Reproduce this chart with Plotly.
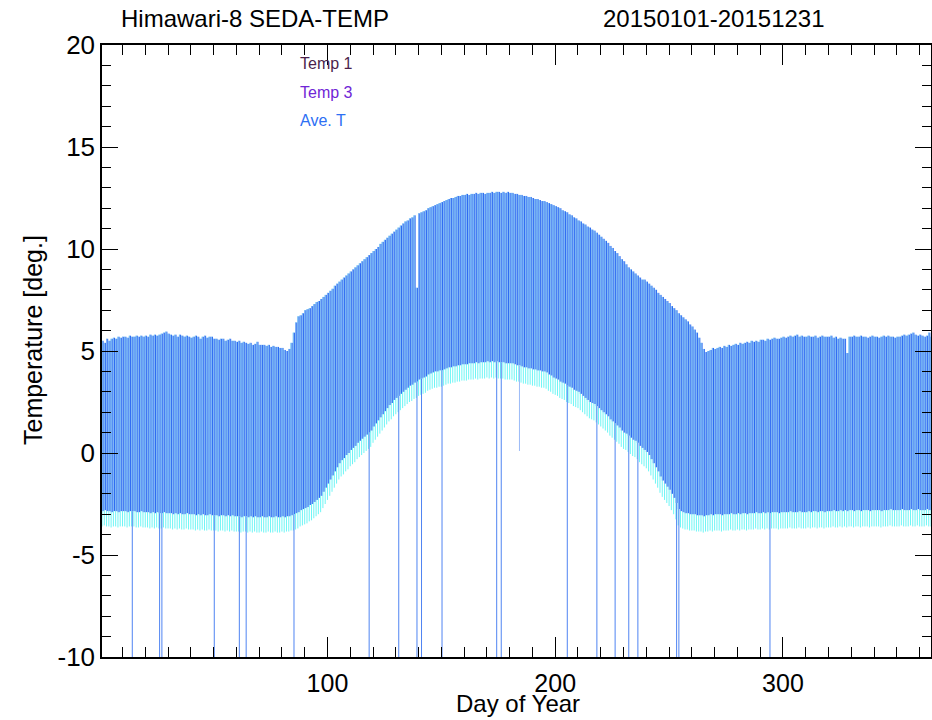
import plotly.graph_objects as go

# Day of year 1..365
days = list(range(1, 366))

# Daily maximum temperature (top envelope)
t_max = [
    5.5, 5.4, 5.6, 5.5, 5.6, 5.65, 5.6, 5.7, 5.65, 5.7,
    5.7, 5.65, 5.75, 5.7, 5.7, 5.75, 5.7, 5.75, 5.7, 5.75,
    5.7, 5.8, 5.75, 5.8, 5.75, 5.8, 5.85, 5.9, 5.95, 5.85,
    5.8, 5.75, 5.8, 5.7, 5.8, 5.75, 5.7, 5.75, 5.7, 5.65,
    5.7, 5.75, 5.7, 5.6, 5.7, 5.75, 5.65, 5.7, 5.7, 5.6,
    5.6, 5.55, 5.6, 5.6, 5.5, 5.55, 5.6, 5.5, 5.5, 5.45,
    5.5, 5.4, 5.45, 5.4, 5.35, 5.4, 5.3, 5.35, 5.45, 5.3,
    5.3, 5.3, 5.25, 5.3, 5.2, 5.25, 5.2, 5.2, 5.15, 5.15,
    5.05, 5.0, 5.1, 5.4, 5.9, 6.4, 6.7, 6.75, 6.85, 7.0,
    7.05, 7.1, 7.2, 7.3, 7.4, 7.45, 7.55, 7.65, 7.75, 7.85,
    7.95, 8.05, 8.2, 8.3, 8.4, 8.5, 8.6, 8.7, 8.8, 8.9,
    9.0, 9.1, 9.2, 9.3, 9.4, 9.5, 9.6, 9.7, 9.8, 9.9,
    10.0, 10.1, 10.25, 10.35, 10.45, 10.55, 10.65, 10.75, 10.85, 10.95,
    11.05, 11.15, 11.25, 11.35, 11.4, 11.5, 11.55, 11.65, 8.1, 11.75,
    11.8, 11.85, 11.9, 12.0, 12.05, 12.1, 12.15, 12.2, 12.25, 12.3,
    12.35, 12.4, 12.45, 12.5, 12.5, 12.55, 12.6, 12.6, 12.65, 12.65,
    12.7, 12.65, 12.7, 12.7, 12.75, 12.7, 12.75, 12.75, 12.7, 12.75,
    12.75, 12.8, 12.75, 12.8, 12.8, 12.75, 12.8, 12.75, 12.8, 12.75,
    12.75, 12.7, 12.7, 12.65, 12.65, 12.6, 12.6, 12.55, 12.55, 12.5,
    12.45, 12.45, 12.4, 12.35, 12.35, 12.3, 12.25, 12.2, 12.15, 12.1,
    12.05, 12.0, 11.9, 11.85, 11.8, 11.7, 11.65, 11.55, 11.5, 11.4,
    11.35, 11.25, 11.2, 11.1, 11.05, 10.95, 10.9, 10.8, 10.7, 10.6,
    10.5, 10.4, 10.3, 10.15, 10.05, 9.9, 9.8, 9.65, 9.5, 9.4,
    9.25, 9.1, 9.0, 8.9, 8.8, 8.7, 8.6, 8.5, 8.5, 8.4,
    8.3, 8.2, 8.1, 8.0, 7.85, 7.75, 7.65, 7.55, 7.45, 7.35,
    7.2, 7.1, 7.0, 6.85, 6.75, 6.65, 6.55, 6.45, 6.3, 6.2,
    6.05, 5.9, 5.65, 5.4, 5.1, 4.95, 5.0, 5.05, 5.15, 5.1,
    5.15, 5.2, 5.15, 5.25, 5.2, 5.3, 5.25, 5.3, 5.35, 5.3,
    5.4, 5.35, 5.4, 5.45, 5.4, 5.5, 5.45, 5.5, 5.45, 5.55,
    5.55, 5.5, 5.6, 5.55, 5.6, 5.65, 5.6, 5.6, 5.65, 5.7,
    5.65, 5.7, 5.75, 5.7, 5.75, 5.8, 5.7, 5.75, 5.7, 5.7,
    5.75, 5.7, 5.7, 5.75, 5.65, 5.7, 5.75, 5.7, 5.7, 5.7,
    5.75, 5.65, 5.7, 5.6, 5.65, 5.6, 5.6, 4.9, 5.7, 5.7,
    5.75, 5.7, 5.7, 5.75, 5.7, 5.7, 5.65, 5.7, 5.75, 5.7,
    5.7, 5.65, 5.7, 5.75, 5.7, 5.75, 5.7, 5.7, 5.65, 5.7,
    5.7, 5.75, 5.8, 5.75, 5.8, 5.85, 5.9, 5.8, 5.75, 5.8,
    5.75, 5.7, 5.75, 5.9, 5.7,
]

# Daily minimum of Temp 1 (cyan lower band)
t1_min = [
    -3.6, -3.55, -3.6, -3.6, -3.65, -3.6, -3.6, -3.65, -3.6, -3.6,
    -3.6, -3.65, -3.6, -3.6, -3.6, -3.65, -3.65, -3.6, -3.65, -3.65,
    -3.65, -3.7, -3.65, -3.7, -3.65, -3.7, -3.7, -3.65, -3.7, -3.7,
    -3.7, -3.75, -3.7, -3.75, -3.7, -3.75, -3.75, -3.7, -3.75, -3.75,
    -3.75, -3.8, -3.75, -3.8, -3.75, -3.8, -3.8, -3.75, -3.8, -3.8,
    -3.8, -3.85, -3.8, -3.8, -3.85, -3.8, -3.85, -3.8, -3.85, -3.85,
    -3.85, -3.9, -3.85, -3.85, -3.9, -3.85, -3.9, -3.85, -3.9, -3.9,
    -3.85, -3.9, -3.9, -3.85, -3.9, -3.9, -3.85, -3.9, -3.9, -3.85,
    -3.9, -3.85, -3.85, -3.8, -3.8, -3.75, -3.7, -3.6, -3.55, -3.5,
    -3.45, -3.35, -3.3, -3.2, -3.1, -3.0, -2.9, -2.7, -2.5, -2.3,
    -2.1, -1.9, -1.7, -1.5, -1.3, -1.15, -1.05, -0.9, -0.8, -0.65,
    -0.55, -0.45, -0.3, -0.2, -0.1, 0.0, 0.1, 0.2, 0.3, 0.5,
    0.65, 0.8, 0.95, 1.1, 1.25, 1.4, 1.55, 1.65, 1.8, 1.9,
    2.0, 2.1, 2.2, 2.3, 2.4, 2.5, 2.55, 2.65, 2.7, 2.8,
    2.85, 2.9, 2.95, 3.05, 3.1, 3.15, 3.2, 3.2, 3.25, 3.25,
    3.3, 3.35, 3.4, 3.4, 3.45, 3.45, 3.5, 3.5, 3.55, 3.55,
    3.55, 3.6, 3.6, 3.6, 3.65, 3.6, 3.65, 3.65, 3.65, 3.7,
    3.65, 3.7, 3.65, 3.7, 3.65, 3.65, 3.65, 3.6, 3.6, 3.6,
    3.6, 3.55, 3.5, 3.5, 3.45, 3.4, 3.4, 3.35, 3.35, 3.3,
    3.3, 3.25, 3.25, 3.2, 3.2, 3.15, 3.05, 3.0, 2.9, 2.85,
    2.8, 2.7, 2.65, 2.6, 2.5, 2.45, 2.4, 2.3, 2.25, 2.2,
    2.1, 2.0, 1.9, 1.8, 1.7, 1.65, 1.6, 1.5, 1.4, 1.3,
    1.2, 1.1, 1.0, 0.85, 0.75, 0.65, 0.55, 0.45, 0.3, 0.2,
    0.15, 0.05, -0.05, -0.15, -0.2, -0.3, -0.45, -0.55, -0.65, -0.75,
    -0.9, -1.1, -1.3, -1.5, -1.7, -1.95, -2.15, -2.3, -2.45, -2.6,
    -2.8, -3.0, -3.25, -3.55, -3.65, -3.7, -3.75, -3.75, -3.8, -3.8,
    -3.8, -3.85, -3.85, -3.85, -3.9, -3.85, -3.85, -3.8, -3.85, -3.8,
    -3.8, -3.8, -3.85, -3.8, -3.8, -3.8, -3.75, -3.8, -3.8, -3.75,
    -3.8, -3.75, -3.75, -3.8, -3.75, -3.75, -3.75, -3.7, -3.75, -3.75,
    -3.7, -3.75, -3.7, -3.75, -3.7, -3.7, -3.7, -3.75, -3.7, -3.7,
    -3.7, -3.7, -3.65, -3.7, -3.7, -3.7, -3.65, -3.7, -3.7, -3.7,
    -3.65, -3.7, -3.65, -3.65, -3.7, -3.65, -3.65, -3.7, -3.65, -3.65,
    -3.65, -3.6, -3.65, -3.65, -3.6, -3.65, -3.6, -3.65, -3.6, -3.6,
    -3.65, -3.6, -3.6, -3.65, -3.6, -3.6, -3.6, -3.65, -3.6, -3.6,
    -3.6, -3.6, -3.65, -3.6, -3.6, -3.6, -3.55, -3.6, -3.6, -3.6,
    -3.6, -3.55, -3.6, -3.6, -3.6, -3.55, -3.6, -3.6, -3.55, -3.6,
    -3.6, -3.6, -3.55, -3.6, -3.6,
]

# Daily minimum of Temp 3 / Ave. T (blue lines)
t3_min = [
    -2.85, -2.8, -2.85, -2.85, -2.9, -2.85, -2.85, -2.9, -2.85, -2.85,
    -2.85, -2.9, -2.85, -2.85, -2.85, -2.9, -2.9, -2.85, -2.9, -2.9,
    -2.9, -2.95, -2.9, -2.95, -2.9, -2.95, -2.95, -2.9, -2.95, -2.95,
    -2.95, -3.0, -2.95, -3.0, -2.95, -3.0, -3.0, -2.95, -3.0, -3.0,
    -3.0, -3.05, -3.0, -3.05, -3.0, -3.05, -3.05, -3.0, -3.05, -3.05,
    -3.05, -3.1, -3.05, -3.05, -3.1, -3.05, -3.1, -3.05, -3.1, -3.1,
    -3.1, -3.15, -3.1, -3.1, -3.15, -3.1, -3.15, -3.1, -3.15, -3.15,
    -3.1, -3.15, -3.15, -3.1, -3.15, -3.15, -3.1, -3.15, -3.15, -3.1,
    -3.15, -3.1, -3.1, -3.05, -3.0, -2.95, -2.9, -2.8, -2.75, -2.7,
    -2.65, -2.55, -2.5, -2.4, -2.3, -2.2, -2.1, -1.9, -1.7, -1.5,
    -1.3, -1.1, -0.9, -0.7, -0.5, -0.35, -0.25, -0.1, 0.0, 0.15,
    0.25, 0.35, 0.5, 0.6, 0.7, 0.8, 0.9, 1.0, 1.1, 1.3,
    1.45, 1.6, 1.75, 1.9, 2.05, 2.2, 2.35, 2.45, 2.6, 2.7,
    2.8, 2.9, 3.0, 3.1, 3.2, 3.3, 3.35, 3.45, 3.5, 3.6,
    3.65, 3.7, 3.75, 3.85, 3.9, 3.95, 4.0, 4.0, 4.05, 4.05,
    4.1, 4.15, 4.2, 4.2, 4.25, 4.25, 4.3, 4.3, 4.35, 4.35,
    4.35, 4.4, 4.4, 4.4, 4.45, 4.4, 4.45, 4.45, 4.45, 4.5,
    4.45, 4.5, 4.45, 4.5, 4.45, 4.45, 4.45, 4.4, 4.4, 4.4,
    4.4, 4.35, 4.3, 4.3, 4.25, 4.2, 4.2, 4.15, 4.15, 4.1,
    4.1, 4.05, 4.05, 4.0, 4.0, 3.95, 3.85, 3.8, 3.7, 3.65,
    3.6, 3.5, 3.45, 3.4, 3.3, 3.25, 3.2, 3.1, 3.05, 3.0,
    2.9, 2.8, 2.7, 2.6, 2.5, 2.45, 2.4, 2.3, 2.2, 2.1,
    2.0, 1.9, 1.8, 1.65, 1.55, 1.45, 1.35, 1.25, 1.1, 1.0,
    0.95, 0.85, 0.75, 0.65, 0.6, 0.5, 0.35, 0.25, 0.15, 0.05,
    -0.1, -0.3, -0.5, -0.7, -0.9, -1.15, -1.35, -1.5, -1.65, -1.8,
    -2.0, -2.2, -2.45, -2.75, -2.85, -2.9, -2.95, -2.95, -3.0, -3.0,
    -3.0, -3.05, -3.05, -3.05, -3.1, -3.05, -3.05, -3.0, -3.05, -3.0,
    -3.0, -3.0, -3.05, -3.0, -3.0, -3.0, -2.95, -3.0, -3.0, -2.95,
    -3.0, -2.95, -2.95, -3.0, -2.95, -2.95, -2.95, -2.9, -2.95, -2.95,
    -2.9, -2.95, -2.9, -2.95, -2.9, -2.9, -2.9, -2.95, -2.9, -2.9,
    -2.9, -2.9, -2.85, -2.9, -2.9, -2.9, -2.85, -2.9, -2.9, -2.9,
    -2.85, -2.9, -2.85, -2.85, -2.9, -2.85, -2.85, -2.9, -2.85, -2.85,
    -2.85, -2.8, -2.85, -2.85, -2.8, -2.85, -2.8, -2.85, -2.8, -2.8,
    -2.85, -2.8, -2.8, -2.85, -2.8, -2.8, -2.8, -2.85, -2.8, -2.8,
    -2.8, -2.8, -2.85, -2.8, -2.8, -2.8, -2.75, -2.8, -2.8, -2.8,
    -2.8, -2.75, -2.8, -2.8, -2.8, -2.75, -2.8, -2.8, -2.75, -2.8,
    -2.8, -2.8, -2.75, -2.8, -2.8,
]

# Days with data drop-outs (lines falling off the bottom of the chart)
dropout_days = [14, 26, 27, 50, 61, 64, 85, 118, 131, 139, 141, 150, 174, 176,
                205, 218, 226, 232, 236, 253, 254, 294]
dropout_low = -12.0
# Short drop-out that only reaches about 0 deg
short_drop_day = [184]
short_drop_low = [0.1]

legend_labels = ["Temp 1", "Temp 3", "Ave. T"]
legend_colors = ["#4b1f4b", "#7026d6", "#2d6ff4"]

y_tickvals = [-10, -5, 0, 5, 10, 15, 20]
y_ticktext = ["-10", "-5", "0", "5", "10", "15", "20"]


def segments(xs, lo, hi, dx=0.0):
    X, Y = [], []
    for d, a, b in zip(xs, lo, hi):
        X += [d + dx, d + dx, None]
        Y += [a, b, None]
    return X, Y


fig = go.Figure()

# Temp 1 (cyan) drawn first, mostly covered by blue lines
cx, cy = segments(days, t1_min, t_max, 0.0)
fig.add_trace(go.Scatter(x=cx, y=cy, mode="lines", line=dict(color="#5ef4f4", width=0.9),
                         hoverinfo="skip", showlegend=False))

# Temp 3 (light blue)
lx, ly = segments(days, t3_min, t_max, 0.0)
fig.add_trace(go.Scatter(x=lx, y=ly, mode="lines", line=dict(color="#80a6f5", width=0.9),
                         hoverinfo="skip", showlegend=False))

# Ave. T (darker blue)
dx_, dy_ = segments(days, t3_min, t_max, 0.5)
fig.add_trace(go.Scatter(x=dx_, y=dy_, mode="lines", line=dict(color="#1459ef", width=0.9),
                         hoverinfo="skip", showlegend=False))

# drop-outs
idx = {d: i for i, d in enumerate(days)}
sx, sy = [], []
for d in dropout_days:
    sx += [d + 0.3, d + 0.3, None]
    sy += [t3_min[idx[d]], dropout_low, None]
fig.add_trace(go.Scatter(x=sx, y=sy, mode="lines", line=dict(color="#4f84f2", width=1),
                         hoverinfo="skip", showlegend=False))
sx2, sy2 = [], []
for d, lo in zip(short_drop_day, short_drop_low):
    sx2 += [d + 0.3, d + 0.3, None]
    sy2 += [t3_min[idx[d]], lo, None]
fig.add_trace(go.Scatter(x=sx2, y=sy2, mode="lines", line=dict(color="#9bbaf7", width=1),
                         hoverinfo="skip", showlegend=False))

FONT = "Liberation Sans, Arial, Helvetica, sans-serif"

annotations = []
for i, (lab, col) in enumerate(zip(legend_labels, legend_colors)):
    annotations.append(dict(text=lab, x=0.2364, y=0.969 - i * 0.0458, xref="paper", yref="paper",
                            xanchor="left", yanchor="middle", showarrow=False,
                            font=dict(family=FONT, size=16, color=col)))
annotations.append(dict(text="Himawari-8 SEDA-TEMP", x=0.184, y=1.044, xref="paper", yref="paper",
                        xanchor="center", yanchor="middle", showarrow=False,
                        font=dict(family=FONT, size=24, color="black")))
annotations.append(dict(text="20150101-20151231", x=0.738, y=1.044, xref="paper", yref="paper",
                        xanchor="center", yanchor="middle", showarrow=False,
                        font=dict(family=FONT, size=24, color="black")))
annotations.append(dict(text="Day of Year", x=0.502, y=-0.101, xref="paper", yref="paper",
                        xanchor="center", yanchor="bottom", showarrow=False,
                        font=dict(family=FONT, size=24, color="black")))
annotations.append(dict(text="Temperature [deg.]", x=-0.0832, y=0.518, xref="paper", yref="paper",
                        xanchor="center", yanchor="middle", showarrow=False, textangle=-90,
                        font=dict(family=FONT, size=25, color="black")))

fig.update_layout(
    width=932, height=720,
    margin=dict(l=102, r=1, t=45, b=63, autoexpand=False),
    paper_bgcolor="white", plot_bgcolor="white",
    annotations=annotations,
    font=dict(family=FONT, color="black"),
    showlegend=False,
)
fig.update_xaxes(
    range=[1, 365], tick0=0, dtick=100, ticks="inside", ticklen=20, tickwidth=1, tickcolor="black",
    minor=dict(dtick=10, ticklen=10, ticks="inside", tickcolor="black", tickwidth=1),
    showline=True, linecolor="black", linewidth=1.5, mirror="allticks", showgrid=False, zeroline=False,
    tickfont=dict(family=FONT, size=25, color="black"), ticklabelstandoff=3, automargin=False,
)
fig.update_yaxes(
    range=[-10, 20], tickmode="array", tickvals=y_tickvals, ticktext=y_ticktext,
    ticks="inside", ticklen=16, tickwidth=1, tickcolor="black",
    minor=dict(dtick=1, tick0=0, ticklen=9, ticks="inside", tickcolor="black", tickwidth=1),
    showline=True, linecolor="black", linewidth=1.5, mirror="allticks", showgrid=False, zeroline=False,
    tickfont=dict(family=FONT, size=26, color="black"), automargin=False,
)

# remove the default page margin so the 932x720 figure fills the window exactly
fig.write_html("out.html", config={"displayModeBar": False},
               post_script="document.body.style.margin='0px';")
